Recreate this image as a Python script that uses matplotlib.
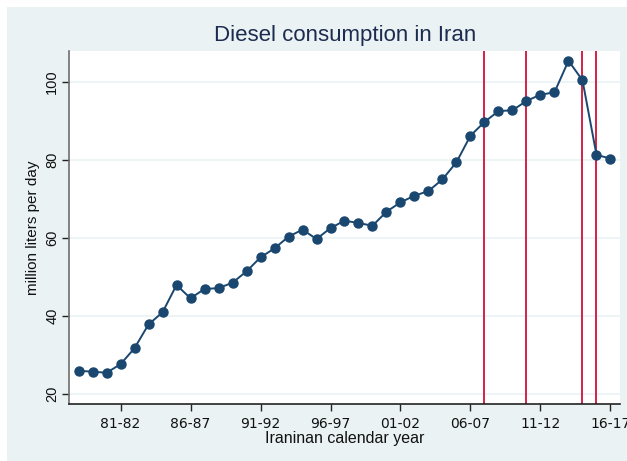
import matplotlib
matplotlib.use("Agg")
import matplotlib.pyplot as plt
from matplotlib.patches import Rectangle

# Diesel consumption, million liters per day, by Iranian calendar year (start year)
years = list(range(1978, 2017))
consumption = [25.9, 25.7, 25.4, 27.6, 31.7, 37.8, 40.9, 47.9, 44.5, 46.9,
               47.1, 48.5, 51.4, 55.0, 57.3, 60.3, 62.1, 59.7, 62.5, 64.4,
               63.8, 63.1, 66.7, 69.1, 70.8, 72.0, 75.0, 79.4, 86.2, 89.7,
               92.5, 92.7, 95.1, 96.7, 97.3, 105.4, 100.4, 81.3, 80.3]

# Years marked with vertical reference lines
marker_years = [2007, 2010, 2014, 2015]

# Tick positions and labels
xtick_years = [1981, 1986, 1991, 1996, 2001, 2006, 2011, 2016]
xtick_labels = ["81-82", "86-87", "91-92", "96-97", "01-02", "06-07", "11-12", "16-17"]
yticks = [20, 40, 60, 80, 100]

BG = "#eaf2f3"
NAVY = "#1a476f"
RED = "#d0103a"

W, H = 627, 461
fig = plt.figure(figsize=(W / 100, H / 100), dpi=100)
fig.patch.set_facecolor("white")
fig.add_artist(Rectangle((7 / W, 0), 1 - 7 / W, 1 - 7 / H,
                         transform=fig.transFigure, facecolor=BG,
                         edgecolor="none", zorder=-10))

left, right, top, bottom = 69, 620, 51, 404
ax = fig.add_axes([left / W, 1 - bottom / H, (right - left) / W, (bottom - top) / H])
ax.set_zorder(1)
ax.set_facecolor("white")

ax.set_xlim(1977.32, 2016.68)
ax.set_ylim(17.4, 107.9)

for y in yticks:
    ax.axhline(y, color=BG, lw=1.2, zorder=1)

for yr in marker_years:
    ax.axvline(yr, color=RED, lw=1.3, zorder=2)

ax.plot(years, consumption, color=NAVY, lw=1.4, marker="o", markersize=6.5,
        markerfacecolor=NAVY, markeredgecolor=NAVY, zorder=3, clip_on=False)

for s in ["top", "right"]:
    ax.spines[s].set_visible(False)
ax.spines["left"].set_color("#6e6e6e")
ax.spines["left"].set_linewidth(1.2)
ax.spines["bottom"].set_color("#222222")
ax.spines["bottom"].set_linewidth(1.2)

ax.set_yticks(yticks)
ax.set_yticklabels([str(v) for v in yticks], rotation=90, va="center",
                   fontsize=10.5, family="Liberation Sans", color="#111111")
ax.set_xticks(xtick_years)
ax.set_xticklabels(xtick_labels, fontsize=10, family="DejaVu Sans", color="#111111")
ax.tick_params(axis="both", direction="out", length=5, width=1, color="#222222")
ax.tick_params(axis="x", pad=4)
ax.tick_params(axis="y", pad=2)

ax.set_ylabel("million liters per day", fontsize=11, family="Liberation Sans",
              color="#111111", labelpad=4)
ax.set_xlabel("Iraninan calendar year", fontsize=11.5, family="Liberation Sans",
              color="#111111", labelpad=0)

fig.text(345 / W, 1 - 36 / H, "Diesel consumption in Iran", ha="center",
         va="center", fontsize=16, family="Liberation Sans", color="#1c2b4f")

fig.savefig("out.png", dpi=100, facecolor=fig.get_facecolor())
